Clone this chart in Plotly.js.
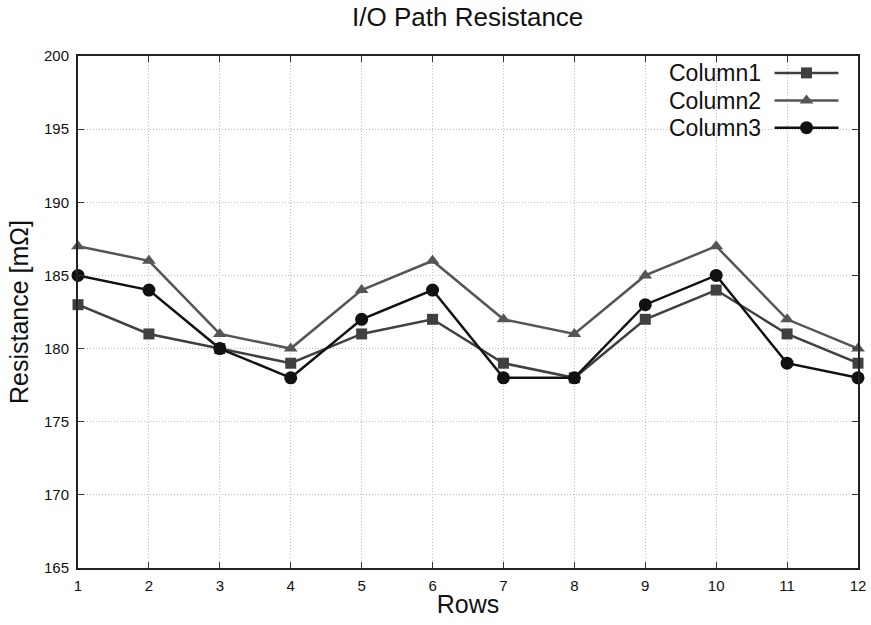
<!DOCTYPE html>
<html><head><meta charset="utf-8">
<script src="https://cdn.plot.ly/plotly-3.0.1.min.js"></script>
<style>html,body{margin:0;padding:0;background:#fff}#chart{width:871px;height:625px}</style>
</head><body><div id="chart"></div>
<script>
const rows = [1,2,3,4,5,6,7,8,9,10,11,12];
const column1 = [183,181,180,179,181,182,179,178,182,184,181,179];
const column2 = [187,186,181,180,184,186,182,181,185,187,182,180];
const column3 = [185,184,180,178,182,184,178,178,183,185,179,178];
const names = ['Column1','Column2','Column3'];
const colors = ['#404040','#555555','#111111'];
const symbols = ['square','triangle-up','circle'];
const sizes = [11,12,13];
const series = [column1, column2, column3];

const traces = series.map((s,i)=>({
  x: rows, y: s, type:'scatter', mode:'lines+markers', name: names[i],
  line:{color:colors[i], width:2.5},
  marker:{symbol:symbols[i], size:sizes[i], color:colors[i]},
  showlegend:false, cliponaxis:false
}));

const baseFont = 'Liberation Sans, Arial, sans-serif';
const tickFont = {family:baseFont, size:15, color:'#111'};
// custom legend (text left of sample, as in the reference)
const legY = [0.967, 0.913, 0.860];
const annotations = names.map((n,i)=>({
  xref:'paper', yref:'paper', x:0.878, y:legY[i], xanchor:'right', yanchor:'middle',
  text:n, showarrow:false, font:{family:baseFont, size:23, color:'#111'}
}));
const shapes = [];
const lx0 = 0.893, lx1 = 0.975, lm = 0.934;
names.forEach((n,i)=>{
  shapes.push({type:'line', xref:'paper', yref:'paper', x0:lx0, x1:lx1, y0:legY[i], y1:legY[i], line:{color:colors[i], width:2.5}});
});
const traceLeg = names.map((n,i)=>({
  x:[lm], y:[legY[i]], xaxis:'x2', yaxis:'y2', type:'scatter', mode:'markers',
  marker:{symbol:symbols[i], size:sizes[i], color:colors[i]}, showlegend:false, hoverinfo:'skip'
}));

const gridDash = '1px,2px';
const layout = {
  width:871, height:625,
  margin:{l:78, r:13, t:56, b:57},
  paper_bgcolor:'#fff', plot_bgcolor:'#fff',
  title:{text:'I/O Path Resistance', x:0.537, xanchor:'center', y:0.988, yanchor:'top',
    font:{family:baseFont, size:26, color:'#111'}},
  xaxis:{range:[1,12], tickvals:rows, ticktext:rows.map(String), showgrid:true,
    gridcolor:'#bdbdbd', griddash:gridDash, gridwidth:1, zeroline:false,
    showline:true, linecolor:'#222', linewidth:2, mirror:'ticks', ticks:'inside', ticklen:6, tickcolor:'#333',
    ticklabelstandoff:3,
    tickfont:tickFont, title:{text:'Rows', font:{family:baseFont, size:25, color:'#111'}, standoff:2}},
  yaxis:{range:[165,200], dtick:5, tick0:165, showgrid:true,
    gridcolor:'#bdbdbd', griddash:gridDash, gridwidth:1, zeroline:false,
    showline:true, linecolor:'#222', linewidth:2, mirror:'ticks', ticks:'inside', ticklen:6, tickcolor:'#333',
    ticklabelstandoff:4,
    tickfont:tickFont, title:{text:'Resistance [mΩ]', font:{family:baseFont, size:25, color:'#111'}, standoff:8}},
  xaxis2:{overlaying:'x', range:[0,1], visible:false, fixedrange:true, anchor:'y2'},
  yaxis2:{overlaying:'y', range:[0,1], visible:false, fixedrange:true, anchor:'x2'},
  annotations: annotations, shapes: shapes, showlegend:false
};
Plotly.newPlot('chart', traces.concat(traceLeg), layout, {displayModeBar:false, staticPlot:true});
</script></body></html>
